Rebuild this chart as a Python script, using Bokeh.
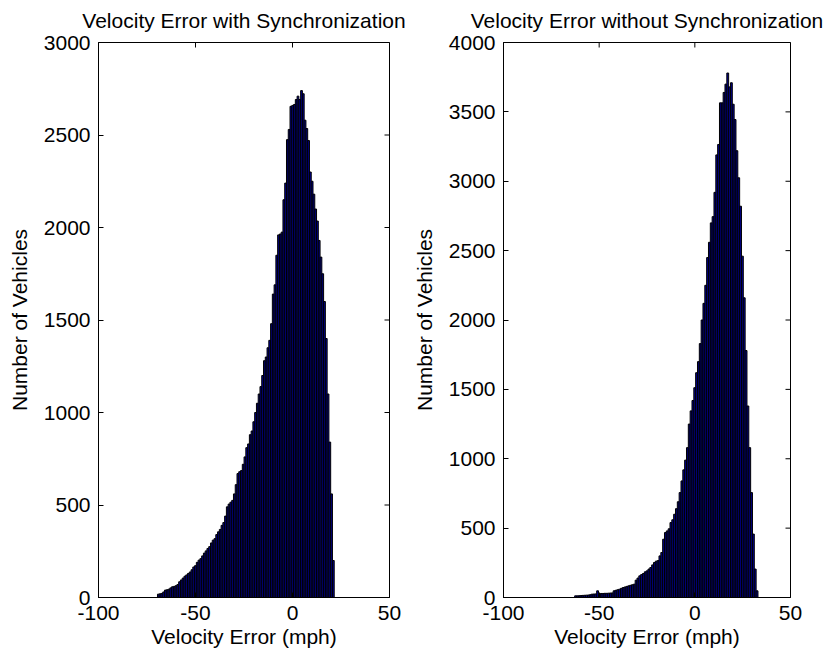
import numpy as np
from bokeh.plotting import figure
from bokeh.layouts import row
from bokeh.models import Range1d, FixedTicker, ColumnDataSource
from bokeh.embed import file_html
from bokeh.resources import INLINE

FONT = "Liberation Sans"

# ---- data (histogram counts, 100 bins each) ----
sync_title = "Velocity Error with Synchronization"
sync_range = (-69.6, 21.5)
sync_counts = [
    18, 20, 22, 30, 40, 42, 45, 52, 58, 60,
    64, 70, 85, 95, 105, 115, 122, 130, 138, 150,
    165, 172, 190, 202, 210, 225, 240, 252, 265, 275,
    295, 310, 318, 340, 355, 368, 390, 405, 440, 490,
    505, 515, 525, 560, 610, 670, 680, 686, 720, 760,
    810, 830, 880, 900, 950, 1000, 1050, 1100, 1140, 1200,
    1280, 1300, 1350, 1390, 1480, 1640, 1690, 1850, 1960, 1965,
    1975, 2150, 2240, 2475, 2530, 2655, 2660, 2665, 2692, 2710,
    2692, 2740, 2723, 2580, 2535, 2470, 2300, 2250, 2180, 2100,
    2035, 1930, 1840, 1750, 1600, 1400, 1100, 840, 560, 200,
]
sync_y_ticks = [0, 500, 1000, 1500, 2000, 2500, 3000]

nosync_title = "Velocity Error without Synchronization"
nosync_range = (-62.8, 33.0)
nosync_counts = [
    12, 12, 13, 14, 15, 16, 17, 18, 20, 24,
    25, 26, 48, 28, 29, 29, 30, 30, 31, 32,
    33, 48, 52, 56, 60, 66, 72, 76, 80, 84,
    88, 92, 96, 125, 140, 156, 165, 173, 185, 192,
    205, 216, 235, 252, 262, 266, 300, 324, 420, 468,
    480, 495, 540, 560, 600, 640, 690, 756, 840, 920,
    990, 1080, 1250, 1345, 1420, 1512, 1620, 1700, 1830, 2000,
    2120, 2250, 2450, 2560, 2700, 2745, 2920, 3190, 3265, 3565,
    3565, 3640, 3700, 3780, 3680, 3710, 3555, 3445, 3220, 3025,
    2820, 2460, 2160, 1780, 1380, 1080, 756, 457, 205, 48,
]
nosync_y_ticks = [0, 500, 1000, 1500, 2000, 2500, 3000, 3500, 4000]

x_ticks = [-100, -50, 0, 50]
x_tick_labels = ["-100", "-50", "0", "50"]
x_label = "Velocity Error (mph)"
y_label = "Number of Vehicles"


def style_axis(ax, ticks):
    ax.ticker = FixedTicker(ticks=ticks)
    ax.major_tick_in = 5
    ax.major_tick_out = 0
    ax.minor_tick_line_color = None
    ax.axis_line_color = "black"
    ax.major_tick_line_color = "black"
    ax.major_label_text_font = FONT
    ax.major_label_text_color = "black"
    ax.major_label_text_font_size = "21px"
    ax.major_label_standoff = 8
    ax.axis_label_text_font = FONT
    ax.axis_label_text_font_size = "21px"
    ax.axis_label_text_font_style = "normal"
    ax.axis_label_text_color = "black"


def make_hist(title, counts, data_range, y_ticks, width, border_left, border_right):
    edges = np.linspace(data_range[0], data_range[1], len(counts) + 1)
    src = ColumnDataSource(dict(left=edges[:-1], right=edges[1:], top=counts))
    x_lo, x_hi = x_ticks[0], x_ticks[-1]
    y_hi = y_ticks[-1]
    p = figure(width=width, height=657,
               x_range=Range1d(x_lo, x_hi), y_range=Range1d(0, y_hi),
               output_backend="svg", toolbar_location=None,
               min_border_left=border_left, min_border_right=border_right,
               min_border_top=41, min_border_bottom=60)
    p.quad(left="left", right="right", bottom=0, top="top", source=src,
           fill_color="#00008F", line_color="black", line_width=1)
    p.grid.visible = False
    p.outline_line_color = "black"
    p.outline_line_width = 1
    p.background_fill_color = "white"
    p.border_fill_color = "white"

    style_axis(p.xaxis[0], x_ticks)
    style_axis(p.yaxis[0], y_ticks)
    p.xaxis[0].major_label_overrides = dict(zip(x_ticks, x_tick_labels))
    p.xaxis[0].axis_label = x_label
    p.yaxis[0].axis_label = y_label
    p.xaxis[0].axis_label_standoff = 2
    p.yaxis[0].axis_label_standoff = 10

    # mirrored inward ticks on the top and right edges of the box
    p.scatter(x=x_ticks, y=[y_hi] * len(x_ticks), marker="dash", size=10,
              angle=np.pi / 2, line_color="black", line_width=1)
    p.scatter(x=[x_hi] * len(y_ticks), y=y_ticks, marker="dash", size=10,
              angle=0, line_color="black", line_width=1)

    p.title.text = title
    p.title.align = "center"
    p.title.text_font = FONT
    p.title.text_font_size = "21px"
    p.title.text_font_style = "normal"
    p.title.text_color = "black"
    p.title.standoff = 17
    p.title.vertical_align = "top"
    return p


p1 = make_hist(sync_title, sync_counts, sync_range, sync_y_ticks, 409, 98, 20)
p2 = make_hist(nosync_title, nosync_counts, nosync_range, nosync_y_ticks, 414, 90, 33)

layout = row(p1, p2)
open("out.html", "w").write(file_html(layout, INLINE))
